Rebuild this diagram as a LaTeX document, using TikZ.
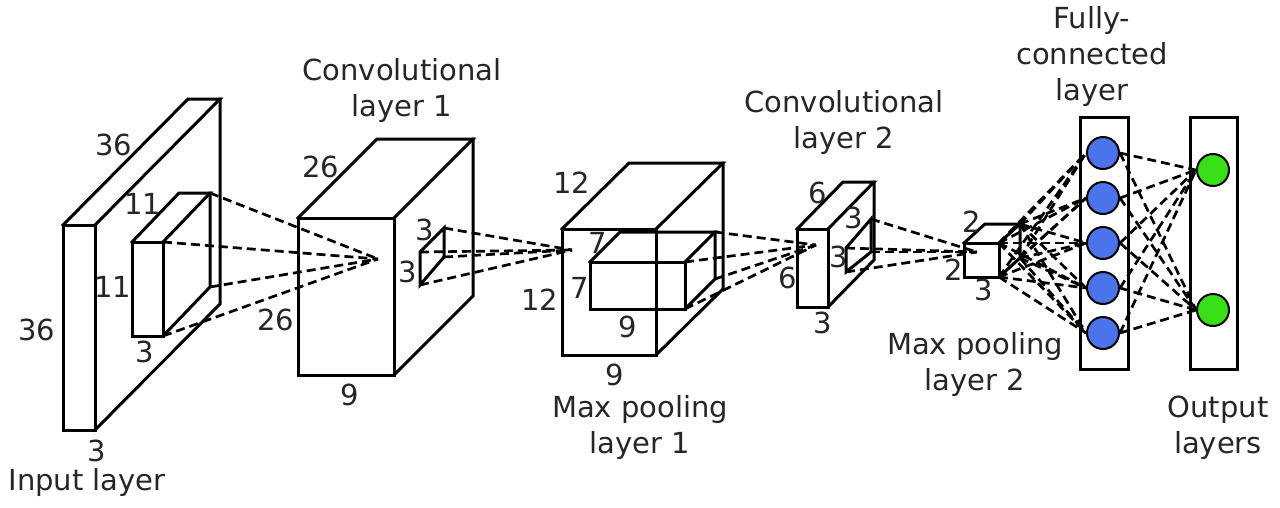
\documentclass[tikz,border=0pt]{standalone}
\usepackage{fontspec}
\setmainfont{DejaVu Sans}
\definecolor{txt}{HTML}{262626}
\definecolor{nodeblue}{HTML}{4B73EB}
\definecolor{nodegreen}{HTML}{38DE16}
\newcommand\mybox[7]{%
  \coordinate (#1-ftl) at (#2,#3);
  \coordinate (#1-ftr) at (#2+#4,#3);
  \coordinate (#1-fbl) at (#2,#3+#5);
  \coordinate (#1-fbr) at (#2+#4,#3+#5);
  \coordinate (#1-btl) at (#2+#6,#3-#7);
  \coordinate (#1-btr) at (#2+#4+#6,#3-#7);
  \coordinate (#1-bbr) at (#2+#4+#6,#3+#5-#7);
  \draw[edge] (#1-ftl) rectangle (#1-fbr);
  \draw[edge] (#1-ftl) -- (#1-btl) -- (#1-btr) -- (#1-ftr);
  \draw[edge] (#1-btr) -- (#1-bbr) -- (#1-fbr);
}
\begin{document}
\begin{tikzpicture}[x=1pt,y=-1pt,
  edge/.style={draw=black, line width=3pt, line join=miter, line cap=rect},
  link/.style={draw=black, line width=2.7pt, dash pattern=on 9pt off 5pt},
  lbl/.style={anchor=base, inner sep=0pt, text=txt, font=\fontsize{29}{36}\selectfont, align=center},
  layerbox/.style={draw=black, line width=3pt, inner sep=0pt},
  neuron/.style={circle, line width=2pt, minimum size=32pt, inner sep=0pt}]
\useasboundingbox (0,0) rectangle (1280,507);

% cuboids
\mybox{in}{63}{225}{32}{205}{125}{126}
\mybox{k1}{132}{242}{31}{94}{47}{49}
\mybox{c1}{298}{218}{96}{157}{79}{79}
\mybox{p1}{562}{229}{94}{126}{67}{66}
\mybox{q1}{590}{262}{95}{47}{30}{30}
\mybox{c2}{797}{229}{31}{78}{46}{47}
\mybox{p2}{964}{243}{35}{34}{21}{19}

% kernels on side faces
\coordinate (k2a) at (420,252);
\coordinate (k2b) at (444,228);
\coordinate (k2c) at (444,257);
\coordinate (k2d) at (420,285);
\draw[edge] (k2a) -- (k2b) -- (k2c) -- (k2d) -- cycle;
\coordinate (k3a) at (846,248);
\coordinate (k3b) at (871,219);
\coordinate (k3c) at (871,252);
\coordinate (k3d) at (846,272);
\draw[edge] (k3a) -- (k3b) -- (k3c) -- (k3d) -- cycle;

% convergence points
\coordinate (a1) at (378,259);
\coordinate (a2) at (572,250);
\coordinate (a3) at (816,245);
\coordinate (a4) at (977,252);

\foreach \c in {k1-btr,k1-ftr,k1-bbr,k1-fbr} \draw[link] (\c) -- (a1);
\foreach \c in {k2a,k2b,k2c,k2d} \draw[link] (\c) -- (a2);
\foreach \c in {q1-btr,q1-ftr,q1-bbr,q1-fbr} \draw[link] (\c) -- (a3);
\foreach \c in {k3a,k3b,k3c,k3d} \draw[link] (\c) -- (a4);

% fully connected and output layers
\node[layerbox, minimum width=48pt, minimum height=252pt] (fc) at (1104,243) {};
\node[layerbox, minimum width=47pt, minimum height=252pt] (out) at (1213.5,243) {};

% neuron positions (named, invisible), used by the links
\node[neuron] (n1) at (1103,153) {};
\node[neuron] (n2) at (1103,198) {};
\node[neuron] (n3) at (1103,243) {};
\node[neuron] (n4) at (1103,288) {};
\node[neuron] (n5) at (1103,333) {};
\node[neuron] (g1) at (1213,170) {};
\node[neuron] (g2) at (1213,310) {};

\foreach \c in {p2-ftr,p2-btr,p2-bbr,p2-fbr}
  \foreach \n in {n1,n2,n3,n4,n5}
    \draw[link] (\c) -- (\n.west);
\foreach \n in {n1,n2,n3,n4,n5}
  \foreach \g in {g1,g2}
    \draw[link] (\n.east) -- (\g.west);

% visible neurons on top of the links
\foreach \n in {n1,n2,n3,n4,n5}
  \node[neuron, draw=black, fill=nodeblue] at (\n) {};
\foreach \g in {g1,g2}
  \node[neuron, draw=black, fill=nodegreen] at (\g) {};

% labels: input layer
\node[lbl] (l1) at (114,155) {36};
\node[lbl] (l2) at (37,340) {36};
\node[lbl] (l3) at (97,461) {3};
\node[lbl] (l4) at (143,214) {11};
\node[lbl] (l5) at (113,297) {11};
\node[lbl] (l6) at (145,362) {3};
\node[lbl] (t1) at (87,490) {Input layer};
% conv 1
\node[lbl] (l7) at (321,177) {26};
\node[lbl] (l8) at (276,330) {26};
\node[lbl] (l9) at (350,405) {9};
\node[lbl] (l10) at (425,240) {3};
\node[lbl] (l11) at (408,282) {3};
\node[lbl] (t2) at (402,116) {Convolutional\\layer 1};
% max pooling 1
\node[lbl] (l12) at (572,193) {12};
\node[lbl] (l13) at (540,310) {12};
\node[lbl] (l14) at (598,253) {7};
\node[lbl] (l15) at (580,298) {7};
\node[lbl] (l16) at (628,337) {9};
\node[lbl] (l17) at (615,385) {9};
\node[lbl] (t3) at (640,453) {Max pooling\\layer 1};
% conv 2
\node[lbl] (l18) at (818,203) {6};
\node[lbl] (l19) at (788,288) {6};
\node[lbl] (l20) at (854,228) {3};
\node[lbl] (l21) at (839,267) {3};
\node[lbl] (l22) at (823,333) {3};
\node[lbl] (t4) at (844,148) {Convolutional\\layer 2};
% max pooling 2
\node[lbl] (l23) at (972,232) {2};
\node[lbl] (l24) at (954,280) {2};
\node[lbl] (l25) at (984,300) {3};
\node[lbl] (t5) at (975,390) {Max pooling\\layer 2};
% fully connected / output
\node[lbl] (t6) at (1092,100) {Fully-\\connected\\layer};
\node[lbl] (t7) at (1218,453) {Output\\layers};
\end{tikzpicture}
\end{document}
